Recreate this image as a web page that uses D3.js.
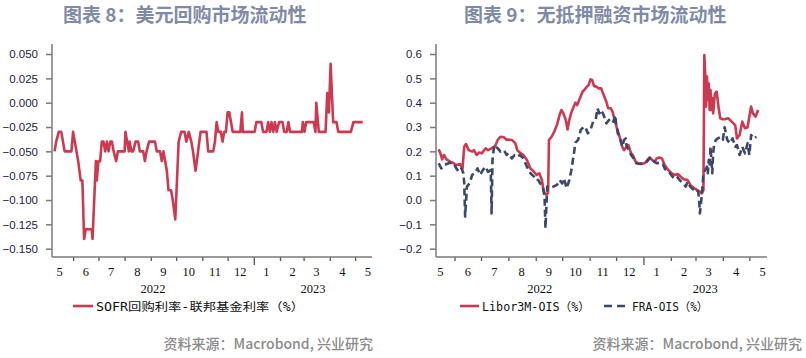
<!DOCTYPE html>
<html><head><meta charset="utf-8">
<script src="https://cdn.jsdelivr.net/npm/d3@7"></script>
<style>body{margin:0;background:#fff} svg{display:block}</style>
</head><body><svg id="c" width="806" height="358"></svg>
<script>
// ---------- data ----------
const sofrDates = ["2022-05-10","2022-05-12","2022-05-15","2022-05-18","2022-05-20","2022-05-22","2022-05-30","2022-06-01","2022-06-05","2022-06-07","2022-06-10","2022-06-12","2022-06-14","2022-06-16","2022-06-23","2022-06-24","2022-06-26","2022-06-28","2022-06-29","2022-07-01","2022-07-03","2022-07-05","2022-07-07","2022-07-09","2022-07-11","2022-07-13","2022-07-15","2022-07-17","2022-07-19","2022-07-22","2022-07-24","2022-08-01","2022-08-02","2022-08-04","2022-08-06","2022-08-07","2022-08-09","2022-08-11","2022-08-14","2022-08-17","2022-08-19","2022-08-23","2022-08-25","2022-08-27","2022-08-30","2022-09-06","2022-09-08","2022-09-12","2022-09-14","2022-09-16","2022-09-18","2022-09-20","2022-09-22","2022-09-25","2022-09-27","2022-09-30","2022-10-02","2022-10-04","2022-10-07","2022-10-11","2022-10-13","2022-10-16","2022-10-19","2022-10-21","2022-10-24","2022-10-27","2022-10-30","2022-11-06","2022-11-08","2022-11-14","2022-11-16","2022-11-18","2022-11-20","2022-11-23","2022-11-25","2022-11-27","2022-11-29","2022-12-01","2022-12-03","2022-12-05","2022-12-07","2022-12-16","2022-12-18","2022-12-19","2023-01-02","2023-01-04","2023-01-10","2023-01-12","2023-01-16","2023-01-18","2023-01-20","2023-01-22","2023-01-24","2023-01-26","2023-01-28","2023-01-31","2023-02-04","2023-02-06","2023-02-09","2023-02-11","2023-02-13","2023-02-27","2023-02-28","2023-03-02","2023-03-04","2023-03-13","2023-03-15","2023-03-16","2023-03-18","2023-03-19","2023-03-27","2023-03-29","2023-03-31","2023-04-02","2023-04-04","2023-04-05","2023-04-09","2023-04-11","2023-04-26","2023-04-29","2023-05-10"];
const sofrValues = [-0.05,-0.04,-0.03,-0.03,-0.04,-0.05,-0.05,-0.03,-0.05,-0.06,-0.08,-0.08,-0.14,-0.13,-0.13,-0.14,-0.10,-0.06,-0.08,-0.06,-0.06,-0.04,-0.04,-0.05,-0.04,-0.05,-0.04,-0.04,-0.05,-0.06,-0.05,-0.05,-0.03,-0.04,-0.05,-0.04,-0.05,-0.05,-0.04,-0.04,-0.05,-0.05,-0.06,-0.05,-0.04,-0.04,-0.05,-0.05,-0.06,-0.05,-0.06,-0.07,-0.09,-0.09,-0.10,-0.12,-0.08,-0.04,-0.03,-0.03,-0.04,-0.03,-0.04,-0.05,-0.07,-0.05,-0.03,-0.03,-0.05,-0.05,-0.04,-0.02,-0.03,-0.03,-0.04,-0.03,-0.03,-0.01,-0.01,-0.02,-0.03,-0.03,-0.01,-0.03,-0.03,-0.02,-0.02,-0.03,-0.03,-0.02,-0.03,-0.02,-0.03,-0.02,-0.03,-0.02,-0.02,-0.03,-0.03,-0.02,-0.03,-0.03,-0.02,-0.03,-0.02,-0.02,-0.03,0.00,-0.02,-0.03,-0.03,0.01,-0.01,0.04,0.00,-0.02,-0.02,-0.03,-0.03,-0.02,-0.02];

const liborDates = ["2022-05-14","2022-05-16","2022-05-18","2022-05-20","2022-05-23","2022-05-27","2022-05-31","2022-06-03","2022-06-07","2022-06-10","2022-06-12","2022-06-14","2022-06-17","2022-06-21","2022-06-23","2022-06-26","2022-06-29","2022-07-02","2022-07-06","2022-07-09","2022-07-13","2022-07-17","2022-07-20","2022-07-23","2022-07-27","2022-07-30","2022-08-01","2022-08-05","2022-08-09","2022-08-11","2022-08-14","2022-08-18","2022-08-22","2022-08-26","2022-08-30","2022-09-02","2022-09-05","2022-09-08","2022-09-10","2022-09-13","2022-09-15","2022-09-16","2022-09-19","2022-09-22","2022-09-25","2022-09-28","2022-09-30","2022-10-02","2022-10-05","2022-10-07","2022-10-09","2022-10-11","2022-10-14","2022-10-16","2022-10-18","2022-10-21","2022-10-24","2022-10-26","2022-10-29","2022-10-31","2022-11-02","2022-11-04","2022-11-06","2022-11-09","2022-11-11","2022-11-14","2022-11-17","2022-11-20","2022-11-22","2022-11-25","2022-11-27","2022-11-30","2022-12-02","2022-12-05","2022-12-08","2022-12-10","2022-12-13","2022-12-15","2022-12-18","2022-12-20","2022-12-23","2022-12-26","2022-12-30","2023-01-03","2023-01-06","2023-01-08","2023-01-11","2023-01-14","2023-01-16","2023-01-19","2023-01-22","2023-01-25","2023-01-29","2023-02-02","2023-02-05","2023-02-09","2023-02-13","2023-02-16","2023-02-20","2023-02-24","2023-02-28","2023-03-03","2023-03-06","2023-03-08","2023-03-10","2023-03-11","2023-03-12","2023-03-13","2023-03-14","2023-03-15","2023-03-16","2023-03-17","2023-03-18","2023-03-19","2023-03-20","2023-03-21","2023-03-23","2023-03-25","2023-03-27","2023-03-29","2023-04-01","2023-04-03","2023-04-07","2023-04-11","2023-04-15","2023-04-17","2023-04-20","2023-04-23","2023-04-26","2023-04-29","2023-05-01","2023-05-03","2023-05-05","2023-05-08","2023-05-11"];
const liborValues = [0.208,0.192,0.167,0.185,0.167,0.158,0.151,0.144,0.148,0.130,0.219,0.230,0.205,0.199,0.205,0.185,0.195,0.192,0.212,0.205,0.212,0.222,0.247,0.260,0.258,0.247,0.249,0.247,0.233,0.205,0.195,0.185,0.164,0.130,0.116,0.103,0.110,0.082,0.034,0.021,0.030,0.247,0.260,0.281,0.308,0.349,0.370,0.359,0.329,0.290,0.329,0.356,0.384,0.400,0.390,0.418,0.445,0.452,0.466,0.473,0.496,0.493,0.468,0.466,0.459,0.459,0.432,0.404,0.377,0.377,0.363,0.322,0.295,0.260,0.219,0.205,0.219,0.226,0.192,0.185,0.158,0.151,0.148,0.153,0.167,0.175,0.164,0.158,0.171,0.175,0.171,0.144,0.123,0.110,0.103,0.107,0.093,0.085,0.082,0.058,0.048,0.041,0.034,0.027,0.041,0.596,0.521,0.384,0.507,0.411,0.479,0.370,0.452,0.370,0.418,0.356,0.438,0.445,0.384,0.336,0.332,0.332,0.336,0.322,0.308,0.253,0.267,0.322,0.295,0.299,0.343,0.384,0.356,0.343,0.370];

const fraDates = ["2022-05-14","2022-05-17","2022-05-19","2022-05-23","2022-05-27","2022-05-31","2022-06-03","2022-06-06","2022-06-09","2022-06-11","2022-06-12","2022-06-13","2022-06-15","2022-06-18","2022-06-21","2022-06-24","2022-06-27","2022-06-30","2022-07-03","2022-07-06","2022-07-09","2022-07-12","2022-07-13","2022-07-14","2022-07-16","2022-07-20","2022-07-23","2022-07-27","2022-07-30","2022-08-01","2022-08-05","2022-08-08","2022-08-11","2022-08-14","2022-08-18","2022-08-22","2022-08-26","2022-08-30","2022-09-01","2022-09-04","2022-09-06","2022-09-09","2022-09-11","2022-09-12","2022-09-14","2022-09-17","2022-09-21","2022-09-25","2022-09-28","2022-10-01","2022-10-03","2022-10-06","2022-10-09","2022-10-11","2022-10-14","2022-10-16","2022-10-19","2022-10-22","2022-10-25","2022-10-27","2022-10-30","2022-11-02","2022-11-05","2022-11-08","2022-11-10","2022-11-12","2022-11-14","2022-11-17","2022-11-20","2022-11-23","2022-11-25","2022-11-28","2022-11-30","2022-12-01","2022-12-03","2022-12-05","2022-12-08","2022-12-10","2022-12-12","2022-12-13","2022-12-16","2022-12-18","2022-12-21","2022-12-24","2022-12-28","2023-01-01","2023-01-05","2023-01-08","2023-01-11","2023-01-13","2023-01-16","2023-01-19","2023-01-23","2023-01-25","2023-01-28","2023-01-31","2023-02-03","2023-02-05","2023-02-08","2023-02-11","2023-02-15","2023-02-18","2023-02-20","2023-02-23","2023-02-26","2023-03-01","2023-03-04","2023-03-05","2023-03-06","2023-03-08","2023-03-10","2023-03-12","2023-03-14","2023-03-15","2023-03-16","2023-03-17","2023-03-18","2023-03-20","2023-03-21","2023-03-22","2023-03-24","2023-03-26","2023-03-29","2023-04-01","2023-04-03","2023-04-06","2023-04-09","2023-04-12","2023-04-15","2023-04-17","2023-04-20","2023-04-23","2023-04-26","2023-04-29","2023-05-01","2023-05-03","2023-05-06","2023-05-09"];
const fraValues = [0.151,0.130,0.140,0.148,0.153,0.151,0.130,0.116,0.130,0.110,0.068,-0.068,0.055,0.068,0.103,0.110,0.130,0.103,0.123,0.137,0.116,0.123,-0.055,0.164,0.226,0.212,0.199,0.205,0.185,0.192,0.171,0.185,0.178,0.185,0.171,0.137,0.110,0.096,0.082,0.082,0.068,0.055,0.014,-0.116,0.055,0.048,0.055,0.062,0.082,0.068,0.089,0.048,0.082,0.116,0.185,0.236,0.247,0.288,0.299,0.301,0.274,0.288,0.322,0.332,0.377,0.356,0.370,0.349,0.315,0.329,0.336,0.322,0.349,0.315,0.274,0.260,0.219,0.247,0.253,0.219,0.205,0.185,0.171,0.151,0.148,0.153,0.158,0.171,0.175,0.158,0.151,0.153,0.148,0.130,0.116,0.110,0.096,0.089,0.096,0.082,0.068,0.055,0.075,0.055,0.044,0.048,0.034,0.007,-0.055,0.014,0.110,0.123,0.137,0.110,0.164,0.137,0.219,0.110,0.192,0.226,0.247,0.253,0.258,0.247,0.299,0.247,0.233,0.253,0.219,0.226,0.185,0.219,0.192,0.233,0.185,0.267,0.253,0.260];

const monthLabels = ["5","6","7","8","9","10","11","12","1","2","3","4","5"];
const yearLabels = ["2022","2023"];
const leftTicks = [0.05,0.025,0,-0.025,-0.05,-0.075,-0.1,-0.125,-0.15];
const rightTicks = [0.6,0.5,0.4,0.3,0.2,0.1,0,-0.1,-0.2];

// ---------- drawing ----------
const parse = d3.timeParse("%Y-%m-%d");
const svg = d3.select("#c");
const RED = "#cc3a52", NAVY = "#3b4868";
const TOP = 44, BOTTOM = 257;

function panel(o) {
  const g = svg.append("g");
  const x = d3.scaleTime().domain([parse(o.start), parse(o.end)]).range([o.x0, o.x1]);
  const y = d3.scaleLinear().domain(o.yDomain).range([o.yPx[0], o.yPx[1]]);

  g.append("text").attr("x", o.titleX).attr("y", 22)
    .attr("font-family", "'Noto Sans CJK SC', sans-serif").attr("font-weight", "bold")
    .attr("font-size", 19).attr("fill", "#7f8ba6").text(o.title);

  const ya = g.append("g").attr("transform", `translate(${o.x0},0)`)
    .call(d3.axisLeft(y).tickValues(o.yTicks).tickFormat(o.fmt).tickSize(6).tickPadding(8));
  ya.select(".domain").remove();
  ya.selectAll(".tick line").attr("stroke", "#7a7a7a").attr("stroke-width", 1.5);
  ya.selectAll(".tick text").attr("font-family", "'Liberation Sans', Arial, sans-serif")
    .attr("font-size", 11.5).attr("fill", "#1c1c40");

  const monthStarts = d3.timeMonth.range(d3.timeMonth.ceil(x.domain()[0]), x.domain()[1]);
  const xa = g.append("g").attr("transform", `translate(0,${BOTTOM})`)
    .call(d3.axisBottom(x).tickValues(monthStarts).tickFormat("").tickSize(4));
  xa.select(".domain").remove();
  xa.selectAll(".tick line").attr("stroke", "#555").attr("stroke-width", 1.3)
    .attr("y2", d => d.getMonth() === 0 ? 8 : 4);

  g.append("line").attr("x1", o.x0).attr("x2", o.x0).attr("y1", TOP).attr("y2", BOTTOM)
    .attr("stroke", "#7a7a7a").attr("stroke-width", 1.5);
  g.append("line").attr("x1", o.x0).attr("x2", o.x1).attr("y1", BOTTOM).attr("y2", BOTTOM)
    .attr("stroke", "#7a7a7a").attr("stroke-width", 1.5);

  const firstMonth = d3.timeMonth.floor(x.domain()[0]);
  monthLabels.forEach((lab, i) => {
    const mid = d3.timeDay.offset(d3.timeMonth.offset(firstMonth, i), 15);
    g.append("text").attr("x", x(mid)).attr("y", 276).attr("text-anchor", "middle")
      .attr("font-family", "'Liberation Serif', 'Times New Roman', serif").attr("font-size", 12.5)
      .attr("fill", "#111").text(lab);
  });
  const jan = parse("2023-01-01");
  [[x.range()[0], x(jan)], [x(jan), x.range()[1]]].forEach((r, i) => {
    g.append("text").attr("x", (r[0] + r[1]) / 2).attr("y", 293).attr("text-anchor", "middle")
      .attr("font-family", "'Liberation Serif', 'Times New Roman', serif").attr("font-size", 12.5)
      .attr("fill", "#111").text(yearLabels[i]);
  });

  const line = d3.line().x(d => x(d[0])).y(d => y(d[1]));
  o.series.forEach(s => {
    const pts = s.dates.map((d, i) => [parse(d), s.values[i]]);
    g.append("path").datum(pts).attr("d", line).attr("fill", "none")
      .attr("stroke", s.color).attr("stroke-width", 2.6)
      .attr("stroke-linejoin", "round")
      .attr("stroke-dasharray", s.dash || null);
  });

  o.legend.forEach(l => {
    g.append("line").attr("x1", l.x).attr("x2", l.x + l.len).attr("y1", 306).attr("y2", 306)
      .attr("stroke", l.color).attr("stroke-width", 2.6).attr("stroke-dasharray", l.dash || null);
    g.append("text").attr("x", l.x + l.len + 3).attr("y", 310.5)
      .attr("font-family", "'DejaVu Sans Mono', 'Noto Sans CJK SC', monospace")
      .attr("font-size", 11.5).attr("fill", "#111")
      .attr("textLength", l.tw).attr("lengthAdjust", "spacingAndGlyphs").text(l.text);
  });

  g.append("text").attr("x", o.srcX).attr("y", 349).attr("text-anchor", "end")
    .attr("font-family", "'Noto Sans CJK SC', sans-serif").attr("font-size", 14)
    .attr("font-weight", 500).attr("fill", "#8a8a8a").text("资料来源：Macrobond, 兴业研究");
}

panel({
  title: "图表 8：美元回购市场流动性", titleX: 63,
  start: "2022-05-07", end: "2023-05-21", x0: 52, x1: 372,
  yDomain: [-0.16, 0.06], yPx: [258.4, 44.3], yTicks: leftTicks, fmt: d3.format(".3f"),
  series: [{dates: sofrDates, values: sofrValues, color: RED}],
  legend: [{x: 73, len: 20, color: RED, text: "SOFR回购利率-联邦基金利率（%）", tw: 208}],
  srcX: 373
});
panel({
  title: "图表 9：无抵押融资市场流动性", titleX: 464,
  start: "2022-05-11", end: "2023-05-21", x0: 436, x1: 767,
  yDomain: [-0.24, 0.64], yPx: [258.4, 44.3], yTicks: rightTicks, fmt: d3.format(".1f"),
  series: [{dates: liborDates, values: liborValues, color: RED},
           {dates: fraDates, values: fraValues, color: NAVY, dash: "7,4"}],
  legend: [{x: 460, len: 19, color: RED, text: "Libor3M-OIS（%）", tw: 108},
           {x: 604, len: 25, color: NAVY, dash: "8,5", text: "FRA-OIS（%）", tw: 76}],
  srcX: 802
});
</script></body></html>
